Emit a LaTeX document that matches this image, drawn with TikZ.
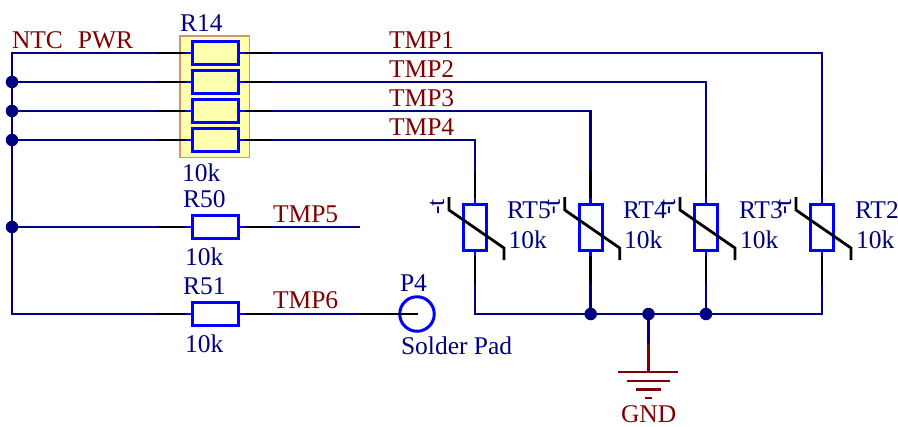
\documentclass[tikz,border=0pt]{standalone}
\usepackage{fontspec}
\setmainfont{Liberation Serif}
\definecolor{wirenavy}{HTML}{000080}
\definecolor{partblue}{HTML}{0000FF}
\definecolor{netred}{HTML}{800000}
\definecolor{padfill}{HTML}{FFFFB0}
\definecolor{padedge}{HTML}{C89868}
\tikzset{
  wire/.style={draw=wirenavy,line width=2.8bp},
  pin/.style={draw=black,line width=2.8bp},
  stub/.style={draw=partblue,line width=2.8bp},
  gndbar/.style={draw=netred,line width=2.8bp},
  res/.style={draw=partblue,line width=3bp,rectangle,inner sep=0,outer sep=0,minimum width=46bp,minimum height=22.4bp},
  ntc/.style={draw=partblue,line width=3bp,rectangle,inner sep=0,outer sep=0,minimum width=23bp,minimum height=46bp},
  dot/.style={circle,fill=wirenavy,inner sep=0,outer sep=0,minimum size=12.5bp},
  lbl/.style={anchor=base west,inner sep=0,outer sep=0,font=\fontsize{25.6}{26}\selectfont},
  partlbl/.style={lbl,text=wirenavy},
  netlbl/.style={lbl,text=netred},
  tmark/.style={inner sep=0,outer sep=0,rotate=90,text=wirenavy,font=\fontsize{25.6}{26}\selectfont}
}
\newcommand{\hres}[3]{%
  \node[res,#3] (#1) at (215,#2) {};
  \coordinate (#1-l) at (158,#2);
  \coordinate (#1-a) at (185,#2);
  \coordinate (#1-b) at (245,#2);
  \coordinate (#1-r) at (271,#2);
  \draw[pin] (#1-l) -- (#1-a);
  \draw[stub] (#1-a) -- (#1.west);
  \draw[stub] (#1.east) -- (#1-b);
  \draw[pin] (#1-b) -- (#1-r);
}
\newcommand{\therm}[2]{%
  \node[ntc] (#1) at (#2,227) {};
  \coordinate (#1-t) at (#2,171);
  \coordinate (#1-a) at (#2,198);
  \coordinate (#1-b) at (#2,256);
  \coordinate (#1-d) at (#2,284);
  \draw[pin] (#1-t) -- (#1-a);
  \draw[stub] (#1-a) -- (#1.north);
  \draw[stub] (#1.south) -- (#1-b);
  \draw[pin] (#1-b) -- (#1-d);
  \draw[pin] (#2-26,197) -- (#2-26,210) -- (#2+29,248) -- (#2+29,260);
  \node[tmark] (#1-m) at (#2-38,207) {-t};
}
\begin{document}
\begin{tikzpicture}[x=1bp,y=-1bp]
\useasboundingbox (0,0) rectangle (898,426);
% pack background
\node[draw=padedge,fill=padfill,line width=1.2bp,rectangle,inner sep=0,outer sep=0,minimum width=69.5bp,minimum height=121.5bp] (pack) at (214.8,96.7) {};
% resistors
\hres{ra}{53}{fill=padfill}
\hres{rb}{82}{fill=padfill}
\hres{rc}{111}{fill=padfill}
\hres{rd}{140}{fill=padfill}
\hres{rf}{227}{fill=white}
\hres{rg}{314}{fill=white}
% thermistors
\therm{rtv}{475}
\therm{rtiv}{590.7}
\therm{rtiii}{706}
\therm{rtii}{822}
% bus
\coordinate (bustop) at (12,53);
\coordinate (busbot) at (12,314);
\draw[wire] (ra-l) -- (bustop) -- (busbot) -- (rg-l);
\node[dot] (ja) at (12,82) {};
\node[dot] (jb) at (12,111) {};
\node[dot] (jc) at (12,140) {};
\node[dot] (jd) at (12,227) {};
\draw[wire] (ja) -- (rb-l);
\draw[wire] (jb) -- (rc-l);
\draw[wire] (jc) -- (rd-l);
\draw[wire] (jd) -- (rf-l);
% nets
\draw[wire] (ra-r) -| (rtii-t);
\draw[wire] (rb-r) -| (rtiii-t);
\draw[wire] (rc-r) -| (rtiv-t);
\draw[wire] (rd-r) -| (rtv-t);
\coordinate (tmpv) at (360,227);
\draw[wire] (rf-r) -- (tmpv);
\coordinate (tmpvi) at (360,314);
\draw[wire] (rg-r) -- (tmpvi);
% pad
\node[circle,draw=partblue,line width=3bp,inner sep=0,outer sep=0,minimum size=34.5bp] (pad) at (417,314) {};
\coordinate (padpin) at (418,314);
\draw[pin] (tmpvi) -- (padpin);
% bottom rail
\draw[wire] (rtv-d) |- (rtii-d |- 0,314) -- (rtii-d);
\node[dot] (je) at (590.7,314) {};
\node[dot] (jf) at (648.5,314) {};
\node[dot] (jg) at (706,314) {};
\draw[wire] (rtiv-d) -- (je);
\draw[wire] (rtiii-d) -- (jg);
% ground
\coordinate (ga) at (648.5,344);
\coordinate (gb) at (648.5,372);
\draw[wire] (jf) -- (ga);
\draw[gndbar] (ga) -- (gb);
\draw[gndbar] (618,372) -- (678,372);
\draw[gndbar] (627,381) -- (670,381);
\draw[gndbar] (636,389.5) -- (661,389.5);
\draw[gndbar] (645,398) -- (652,398);
% labels
\node[netlbl] (lntc) at (12,48) {NTC\hspace{0.42em}\,PWR};
\node[partlbl] (lr14) at (180,31) {R14};
\node[partlbl] (lr14v) at (182,181) {10k};
\node[partlbl] (lr50) at (183,207) {R50};
\node[partlbl] (lr50v) at (185,265) {10k};
\node[partlbl] (lr51) at (183,294) {R51};
\node[partlbl] (lr51v) at (185,352) {10k};
\node[netlbl] (lt1) at (389,48) {TMP1};
\node[netlbl] (lt2) at (389,77) {TMP2};
\node[netlbl] (lt3) at (389,106) {TMP3};
\node[netlbl] (lt4) at (389,135) {TMP4};
\node[netlbl] (lt5) at (273,222) {TMP5};
\node[netlbl] (lt6) at (273,308) {TMP6};
\node[partlbl] (lp4) at (400,291) {P4};
\node[partlbl] (lsp) at (401,354) {Solder Pad};
\node[netlbl] (lgnd) at (621,422) {GND};
\node[partlbl] (lrt5) at (507,218) {RT5};
\node[partlbl] (lrt5v) at (508.5,248) {10k};
\node[partlbl] (lrt4) at (623,218) {RT4};
\node[partlbl] (lrt4v) at (624,248) {10k};
\node[partlbl] (lrt3) at (739,218) {RT3};
\node[partlbl] (lrt3v) at (740,248) {10k};
\node[partlbl] (lrt2) at (855,218) {RT2};
\node[partlbl] (lrt2v) at (856,248) {10k};
\end{tikzpicture}
\end{document}
